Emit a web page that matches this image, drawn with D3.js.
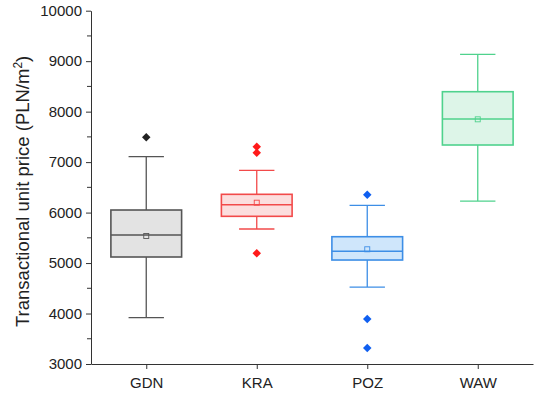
<!DOCTYPE html>
<html>
<head>
<meta charset="utf-8">
<script src="https://cdn.jsdelivr.net/npm/d3@7"></script>
<style>
  html, body { margin: 0; padding: 0; background: #fff; }
  text { font-family: "Liberation Sans", Arial, sans-serif; }
</style>
</head>
<body>
<div class="chart"></div>
<script>
// 数据
let cities = ['GDN', 'KRA', 'POZ', 'WAW']
let whiskerLow = [3917, 5675, 4525, 6229]
let q1 = [5120, 5926, 5060, 7339]
let medians = [5556, 6156, 5233, 7854]
let q3 = [6051, 6362, 5522, 8395]
let whiskerHigh = [7107, 6838, 6144, 9136]
let means = [5536, 6196, 5273, 7848]
let outliers = [[7492], [7305, 7186, 5193], [6354, 3891, 3317], []]
let yTicks = [3000, 4000, 5000, 6000, 7000, 8000, 9000, 10000]

let strokeColors = ['#555555', '#f24a4a', '#3d8ee6', '#4fd28d']
let fillColors = ['#e3e3e3', '#fcdede', '#cfe6fb', '#ddf5e8']
let outlierColors = ['#222222', '#ff1a1a', '#0f5ff0', '#4fd28d']

let width = 537
let height = 394
let margin = { left: 91, right: 4, top: 10.7, bottom: 30 }

let svg = d3.select('.chart')
  .append('svg')
  .attr('width', width)
  .attr('height', height)

let x = d3.scalePoint()
  .domain(cities)
  .range([margin.left, width - margin.right])
  .padding(0.5)

let y = d3.scaleLinear()
  .domain([3000, 10000])
  .range([height - margin.bottom, margin.top])

let step = x.step()
let boxW = step * 0.64

// 坐标轴
let yAxis = svg.append('g')
  .attr('transform', 'translate(' + margin.left + ',0)')
  .call(d3.axisLeft(y).tickValues(yTicks).tickSize(5).tickSizeOuter(0).tickFormat(d3.format('d')))
yAxis.selectAll('text').attr('font-size', '15px').attr('fill', '#222').attr('dx', '-1')
yAxis.select('.domain').attr('stroke', '#333')
yAxis.selectAll('.tick line').attr('stroke', '#333')

// 次刻度
svg.append('g')
  .selectAll('line')
  .data(d3.range(3500, 10000, 1000))
  .enter().append('line')
  .attr('x1', margin.left - 4)
  .attr('x2', margin.left)
  .attr('y1', d => y(d))
  .attr('y2', d => y(d))
  .attr('stroke', '#333')

let xAxis = svg.append('g')
  .attr('transform', 'translate(0,' + (height - margin.bottom) + ')')
  .call(d3.axisBottom(x).tickSize(5).tickSizeOuter(0))
xAxis.selectAll('text').attr('font-size', '15px').attr('fill', '#222').attr('dy', '1.05em')
xAxis.select('.domain').attr('stroke', '#333')
xAxis.selectAll('.tick line').attr('stroke', '#333')

// y轴标题
let yTitle = svg.append('text')
  .attr('transform', 'translate(29,' + ((margin.top + height - margin.bottom) / 2 + 4) + ') rotate(-90)')
  .attr('text-anchor', 'middle')
  .attr('font-size', '18.5px')
  .attr('fill', '#222')
yTitle.append('tspan').text('Transactional unit price (PLN/m')
yTitle.append('tspan').attr('baseline-shift', 'super').attr('font-size', '12px').text('2')
yTitle.append('tspan').text(')')

// 箱线图
let boxG = svg.selectAll('.box')
  .data(cities)
  .enter().append('g')
  .attr('class', 'box')

boxG.append('line')
  .attr('x1', d => x(d))
  .attr('x2', d => x(d))
  .attr('y1', (d, i) => y(whiskerHigh[i]))
  .attr('y2', (d, i) => y(q3[i]))
  .attr('stroke', (d, i) => strokeColors[i])
  .attr('stroke-width', 1.3)
boxG.append('line')
  .attr('x1', d => x(d))
  .attr('x2', d => x(d))
  .attr('y1', (d, i) => y(q1[i]))
  .attr('y2', (d, i) => y(whiskerLow[i]))
  .attr('stroke', (d, i) => strokeColors[i])
  .attr('stroke-width', 1.3)

// 须的横线
boxG.selectAll('.cap')
  .data((d, i) => [{ c: d, v: whiskerHigh[i], i: i }, { c: d, v: whiskerLow[i], i: i }])
  .enter().append('line')
  .attr('class', 'cap')
  .attr('x1', d => x(d.c) - boxW / 4)
  .attr('x2', d => x(d.c) + boxW / 4)
  .attr('y1', d => y(d.v))
  .attr('y2', d => y(d.v))
  .attr('stroke', d => strokeColors[d.i])
  .attr('stroke-width', 1.3)

boxG.append('rect')
  .attr('x', d => x(d) - boxW / 2)
  .attr('y', (d, i) => y(q3[i]))
  .attr('width', boxW)
  .attr('height', (d, i) => y(q1[i]) - y(q3[i]))
  .attr('fill', (d, i) => fillColors[i])
  .attr('stroke', (d, i) => strokeColors[i])
  .attr('stroke-width', 1.6)

boxG.append('line')
  .attr('x1', d => x(d) - boxW / 2)
  .attr('x2', d => x(d) + boxW / 2)
  .attr('y1', (d, i) => y(medians[i]))
  .attr('y2', (d, i) => y(medians[i]))
  .attr('stroke', (d, i) => strokeColors[i])
  .attr('stroke-width', 1.6)

// 均值
boxG.append('rect')
  .attr('x', d => x(d) - 2.5)
  .attr('y', (d, i) => y(means[i]) - 2.5)
  .attr('width', 5)
  .attr('height', 5)
  .attr('fill', 'none')
  .attr('stroke', (d, i) => strokeColors[i])
  .attr('stroke-width', 0.9)

// 异常值（菱形 = 旋转45度的正方形）
let diamond = d3.symbol().type(d3.symbolSquare).size(36)
boxG.selectAll('.outlier')
  .data((d, i) => outliers[i].map(v => ({ c: d, v: v, i: i })))
  .enter().append('path')
  .attr('class', 'outlier')
  .attr('d', diamond)
  .attr('transform', d => 'translate(' + x(d.c) + ',' + y(d.v) + ') rotate(45)')
  .attr('fill', d => outlierColors[d.i])
</script>
</body>
</html>
